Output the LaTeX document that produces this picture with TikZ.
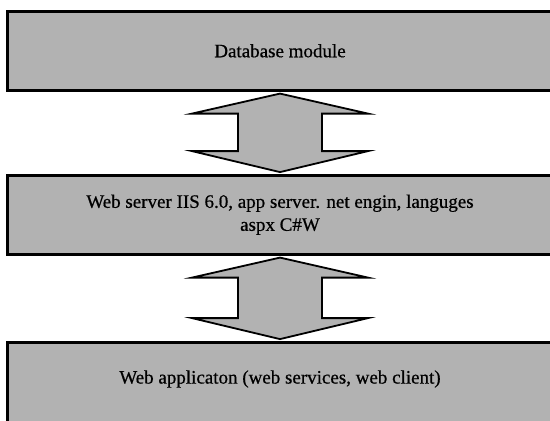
\documentclass[tikz,border=0pt]{standalone}
\usepackage{fontspec}
\setmainfont{Liberation Serif}
\newfontfamily\heavyserif{Liberation Serif}[FakeBold=0.6]
\usetikzlibrary{calc}
\definecolor{boxgray}{gray}{0.7}
\begin{document}
\begin{tikzpicture}[x=1pt,y=-1pt,
  layer/.style={draw=black, fill=boxgray, line width=3pt, minimum width=545pt,
    minimum height=79.5pt, inner sep=0pt, align=center},
  label text/.style={font=\heavyserif\fontsize{19}{23}\selectfont, align=center, inner sep=0pt},
  blockarrow/.style={draw=black, fill=boxgray, line width=1.8pt, line join=miter}]
\useasboundingbox (0,0) rectangle (550,421);
\fill[white] (0,0) rectangle (550,421);
\clip (0,0) rectangle (550,421);
% layers
\node[layer, label text] (db) at (280,50.75) {Database module};
\node[layer, label text] (ws) at (280,214.75) {Web server IIS 6.0, app server. net engin, languges\\aspx C\#W};
\node[layer, minimum height=95pt, anchor=north] (app) at (280,340.5) {};
\node[label text] (apptext) at (280,379) {Web applicaton (web services, web client)};
% double block arrows
\coordinate (t1) at ($(db.south)+(0,1.6)$);
\coordinate (b1) at ($(ws.north)+(0,-1.4)$);
\coordinate (t2) at ($(ws.south)+(0,1.6)$);
\coordinate (b2) at ($(app.north)+(0,-1.4)$);
\draw[blockarrow] (t1) -- ($(t1)+(88,20)$) -- ($(t1)+(42,20)$) -- ($(b1)+(42,-21)$)
  -- ($(b1)+(88,-21)$) -- (b1) -- ($(b1)+(-88,-21)$) -- ($(b1)+(-42,-21)$)
  -- ($(t1)+(-42,20)$) -- ($(t1)+(-88,20)$) -- cycle;
\draw[blockarrow] (t2) -- ($(t2)+(88,20)$) -- ($(t2)+(42,20)$) -- ($(b2)+(42,-21)$)
  -- ($(b2)+(88,-21)$) -- (b2) -- ($(b2)+(-88,-21)$) -- ($(b2)+(-42,-21)$)
  -- ($(t2)+(-42,20)$) -- ($(t2)+(-88,20)$) -- cycle;
\end{tikzpicture}
\end{document}
